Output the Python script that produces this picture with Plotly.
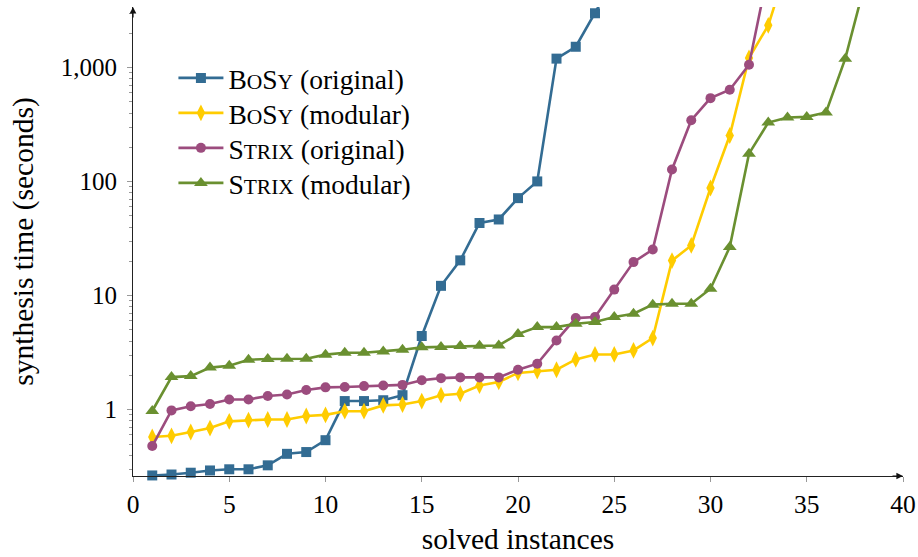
import plotly.graph_objects as go

# ---- data ----
bosy_orig = [0.265, 0.27, 0.28, 0.293, 0.30, 0.30, 0.325, 0.41, 0.425, 0.54,
             1.19, 1.19, 1.21, 1.34, 4.43, 12.2, 20.4, 43.4, 46.6, 71.7,
             100.5, 1200, 1525, 3000, 6000]
bosy_mod = [0.576, 0.59, 0.637, 0.69, 0.79, 0.81, 0.82, 0.82, 0.88, 0.90,
            0.97, 0.97, 1.09, 1.11, 1.19, 1.34, 1.38, 1.63, 1.75, 2.1,
            2.18, 2.24, 2.76, 3.05, 3.05, 3.31, 4.25, 20.3, 27.6, 88,
            254, 1216, 2350, 8000]
strix_orig = [0.48, 0.986, 1.07, 1.12, 1.23, 1.23, 1.32, 1.36, 1.49, 1.57,
              1.58, 1.61, 1.63, 1.65, 1.81, 1.89, 1.92, 1.92, 1.92, 2.24,
              2.53, 4.05, 6.36, 6.5, 11.3, 19.7, 25.4, 128, 346, 540,
              640, 1060, 7000]
strix_mod = [0.974, 1.93, 1.97, 2.34, 2.43, 2.74, 2.78, 2.80, 2.80, 3.04,
             3.16, 3.16, 3.24, 3.36, 3.52, 3.55, 3.62, 3.64, 3.66, 4.6,
             5.3, 5.3, 5.67, 5.87, 6.5, 6.94, 8.34, 8.5, 8.5, 11.5,
             26.7, 176, 330, 365, 370, 405, 1200, 5300]

y_tickvals = [1, 10, 100, 1000]
y_ticktext = ["1", "10", "100", "1,000"]
x_tickvals = [0, 5, 10, 15, 20, 25, 30, 35, 40]

FONT = "Liberation Serif, Times New Roman, serif"
SC = "font-size:21.5px"


def smallcaps(first, rest):
    return f"{first}<span style='{SC}'>{rest}</span>"


names = [
    smallcaps("B", "O") + smallcaps("S", "Y") + " (original)",
    smallcaps("B", "O") + smallcaps("S", "Y") + " (modular)",
    smallcaps("S", "TRIX") + " (original)",
    smallcaps("S", "TRIX") + " (modular)",
]
series = [bosy_orig, bosy_mod, strix_orig, strix_mod]
colors = ["#336c93", "#ffcc00", "#9c4c7e", "#6a9030"]
symbols = ["square", "diamond-tall", "circle", "triangle-up"]
sizes = [10, 12, 10, 12]
legend_ids = ["legend", "legend2", "legend3", "legend4"]
legend_rows_y = [0.8486, 0.774, 0.6994, 0.6247]

fig = go.Figure()
for name, vals, col, sym, sz, lid in zip(names, series, colors, symbols, sizes, legend_ids):
    fig.add_trace(go.Scatter(
        x=list(range(1, len(vals) + 1)), y=vals, name=name, legend=lid,
        mode="lines+markers", cliponaxis=False,
        line=dict(color=col, width=2.6),
        marker=dict(symbol=sym, size=sz, color=col, line=dict(width=0)),
    ))

minor_vals = []
for d in [0.1, 1, 10, 100, 1000]:
    for k in range(2, 10):
        minor_vals.append(k * d)

legend_style = {}
for lid, ly in zip(legend_ids, legend_rows_y):
    legend_style[lid] = dict(
        x=0.0525, y=ly, xanchor="left", yanchor="middle",
        bgcolor="rgba(0,0,0,0)", borderwidth=0,
        font=dict(family=FONT, size=27.5, color="black"),
        itemwidth=45,
    )

fig.update_layout(
    width=918, height=557,
    margin=dict(l=133, r=15, t=7, b=81, autoexpand=False),
    plot_bgcolor="white", paper_bgcolor="white",
    font=dict(family=FONT, color="black", size=24),
    showlegend=True,
    **legend_style,
    xaxis=dict(
        range=[0, 40], tickvals=x_tickvals, showgrid=False, zeroline=False,
        showline=True, linecolor="#222", linewidth=1.2, automargin=False,
        ticks="outside", ticklen=5, tickcolor="#999", tickwidth=1,
        tickfont=dict(family=FONT, size=25.5),
        title=dict(text="solved instances", font=dict(family=FONT, size=29.5), standoff=10),
    ),
    yaxis=dict(
        type="log", range=[-0.5817, 3.532], tickvals=y_tickvals, ticktext=y_ticktext,
        showgrid=False, zeroline=False, automargin=False,
        showline=True, linecolor="#222", linewidth=1.2,
        ticks="outside", ticklen=5, tickcolor="#999", tickwidth=1,
        ticklabelstandoff=5,
        tickfont=dict(family=FONT, size=25),
        minor=dict(tickmode="array", tickvals=minor_vals, ticks="outside",
                   ticklen=3, tickcolor="#999", tickwidth=1, showgrid=False),
        title=dict(text="synthesis time (seconds)", font=dict(family=FONT, size=29.5), standoff=18),
    ),
)

# axis arrowheads
fig.add_annotation(x=1, y=0, xref="paper", yref="paper", text="", showarrow=True,
                   ax=-12, ay=0, arrowhead=2, arrowsize=1.1, arrowwidth=1.2, arrowcolor="#111")
fig.add_annotation(x=0, y=1, xref="paper", yref="paper", text="", showarrow=True,
                   ax=0, ay=12, arrowhead=2, arrowsize=1.1, arrowwidth=1.2, arrowcolor="#111")

fig.write_html(
    "out.html",
    config={"displayModeBar": False},
    post_script="document.body.style.margin='0';document.body.style.overflow='hidden';",
)
